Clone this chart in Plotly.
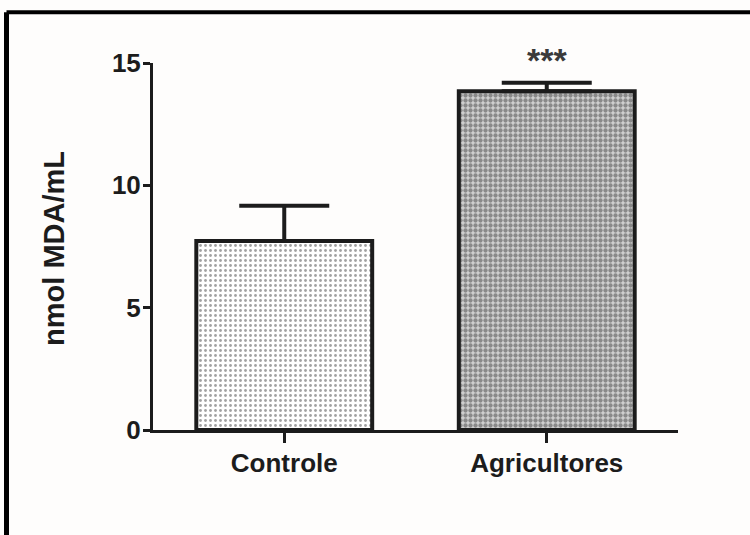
import plotly.graph_objects as go

# Lipid peroxidation (MDA) by group, mean and upper SEM
groups = ["Controle", "Agricultores"]
mda_mean = [7.72, 13.85]
mda_sem = [1.45, 0.34]
y_ticks = [0, 5, 10, 15]
significance = "***"

FONT = "Liberation Sans, Arial, sans-serif"
INK = "#1c1c1c"

# Plot-area edges in pixels, used for margins and frame placement
PLOT_L, PLOT_R, PLOT_T, PLOT_B = 153, 678, 63, 430
def px_x(p):
    return (p - PLOT_L) / (PLOT_R - PLOT_L)
def px_y(p):
    return (PLOT_B - p) / (PLOT_B - PLOT_T)

fig = go.Figure()

fig.add_trace(go.Bar(
    x=groups,
    y=mda_mean,
    width=0.67,
    marker=dict(
        color=["#ffffff", "#cfcfcf"],
        line=dict(color=INK, width=4),
        pattern=dict(
            shape=[".", "."],
            fgcolor=["#a0a0a0", "#1a1a1a"],
            bgcolor=["#ffffff", "#d4d4d4"],
            size=[5, 5],
            solidity=[0.25, 0.58],
        ),
    ),
    error_y=dict(
        type="data",
        symmetric=False,
        array=mda_sem,
        arrayminus=[0, 0],
        color=INK,
        thickness=4,
        width=45,
    ),
    showlegend=False,
))

# Significance marker above the second group
fig.add_annotation(
    x=groups[1], yref="paper", y=px_y(60),
    text=significance, showarrow=False,
    font=dict(family=FONT, size=34, color="#3a3a3a", weight="bold"),
    xanchor="center", yanchor="middle",
)

# Rotated y-axis title
fig.add_annotation(
    xref="paper", x=0, xshift=-99, xanchor="center",
    y=7.4, yanchor="middle",
    text="nmol MDA/mL", textangle=-90, showarrow=False,
    font=dict(family=FONT, size=29, color=INK, weight="bold"),
)

# Outer frame (top and left edges)
fig.add_shape(type="line", xref="paper", yref="paper",
              x0=px_x(6.5), x1=px_x(760), y0=px_y(12.3), y1=px_y(12.3),
              line=dict(color="#000000", width=4))
fig.add_shape(type="line", xref="paper", yref="paper",
              x0=px_x(6.5), x1=px_x(6.5), y0=px_y(12.3), y1=px_y(545),
              line=dict(color="#000000", width=5))

fig.update_layout(
    width=750, height=535,
    margin=dict(l=PLOT_L, r=750 - PLOT_R, t=PLOT_T, b=535 - PLOT_B, pad=0),
    paper_bgcolor="#fefdfc",
    plot_bgcolor="#fefdfc",
    xaxis=dict(
        range=[-0.5, 1.5],
        showgrid=False, zeroline=False,
        showline=True, linecolor=INK, linewidth=3,
        ticks="outside", ticklen=10, tickwidth=3, tickcolor=INK,
        ticklabelstandoff=-2,
        tickfont=dict(family=FONT, size=26, color=INK, weight="bold"),
    ),
    yaxis=dict(
        range=[0, 15],
        tickvals=y_ticks,
        showgrid=False, zeroline=False,
        showline=True, linecolor=INK, linewidth=3,
        ticks="outside", ticklen=7, tickwidth=3, tickcolor=INK,
        ticklabelstandoff=-3,
        tickfont=dict(family=FONT, size=26, color=INK, weight="bold"),
    ),
)

fig.write_html("out.html")
